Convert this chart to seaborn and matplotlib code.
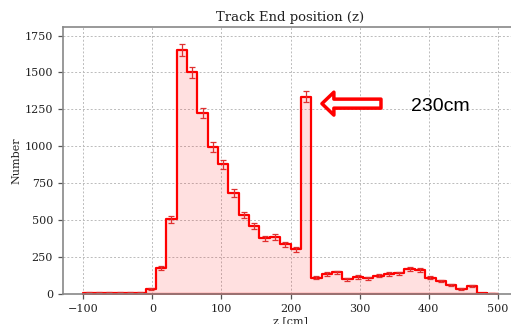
import numpy as np
import pandas as pd
import matplotlib
matplotlib.use("Agg")
import matplotlib.pyplot as plt
import seaborn as sns

# Bin edges from -100 to 500 cm, 40 bins
bin_edges = list(range(-100, 501, 15))
counts = [8, 8, 8, 8, 8, 8, 32, 175, 505, 1650, 1500, 1225, 995, 878, 685,
          535, 460, 376, 383, 336, 302, 1335, 110, 135, 146, 99, 115, 108,
          124, 135, 140, 169, 162, 110, 88, 61, 32, 54, 5, 3]
errors = [3, 3, 3, 3, 3, 3, 6, 13, 22, 41, 39, 35, 32, 30, 26,
          23, 21, 19, 20, 18, 17, 37, 10, 12, 12, 10, 11, 10,
          11, 12, 12, 13, 13, 10, 9, 8, 6, 7, 2, 2]
centers = [(a + b) / 2 for a, b in zip(bin_edges[:-1], bin_edges[1:])]

df = pd.DataFrame({"z": centers, "n": counts, "err": errors})

sns.set_style("whitegrid")
plt.rcParams["font.family"] = ["DejaVu Serif"]

fig = plt.figure(figsize=(5.11, 3.24), dpi=100)
ax = fig.add_axes([0.1227, 0.0926, 0.8917, 0.825])

sns.histplot(data=df, x="z", weights="n", bins=bin_edges, element="step",
             fill=True, color="red", alpha=0.12, linewidth=1.6, ax=ax)
ax.errorbar(df["z"], df["n"], yerr=df["err"], fmt="none", ecolor="#e03030",
            elinewidth=0.9, capsize=2.2, capthick=0.9)

ax.set_xlim(-130, 530)
ax.set_ylim(0, 1810)
ax.set_xticks([-100, 0, 100, 200, 300, 400, 500])
ax.set_yticks([0, 250, 500, 750, 1000, 1250, 1500, 1750])
ax.grid(True, color="#bbbbbb", linestyle=(0, (2, 2)), linewidth=0.7)
for s in ax.spines.values():
    s.set_color("#888888")
    s.set_linewidth(1.2)
ax.tick_params(axis="both", which="major", length=3.5, width=0.9, color="#555555",
               labelsize=8, labelcolor="#222222", direction="out", bottom=True, left=True)
ax.set_title("Track End position (z)", fontsize=9.5, color="#222222", pad=4)
ax.set_ylabel("Number", fontsize=8, color="#222222", labelpad=2)
ax.set_xlabel("z [cm]", fontsize=8, color="#222222", labelpad=2)

ax.annotate("", xy=(245.5, 1289), xytext=(331, 1289),
            arrowprops=dict(arrowstyle="simple,head_width=16.5,head_length=8.6,tail_width=6.5",
                            mutation_scale=1, fc="white", ec="red", lw=2.5,
                            shrinkA=0, shrinkB=0))
ax.text(417, 1268, "230cm", ha="center", va="center", fontsize=14,
        family=["Liberation Sans"], color="black")

fig.savefig("out.png", dpi=100)
